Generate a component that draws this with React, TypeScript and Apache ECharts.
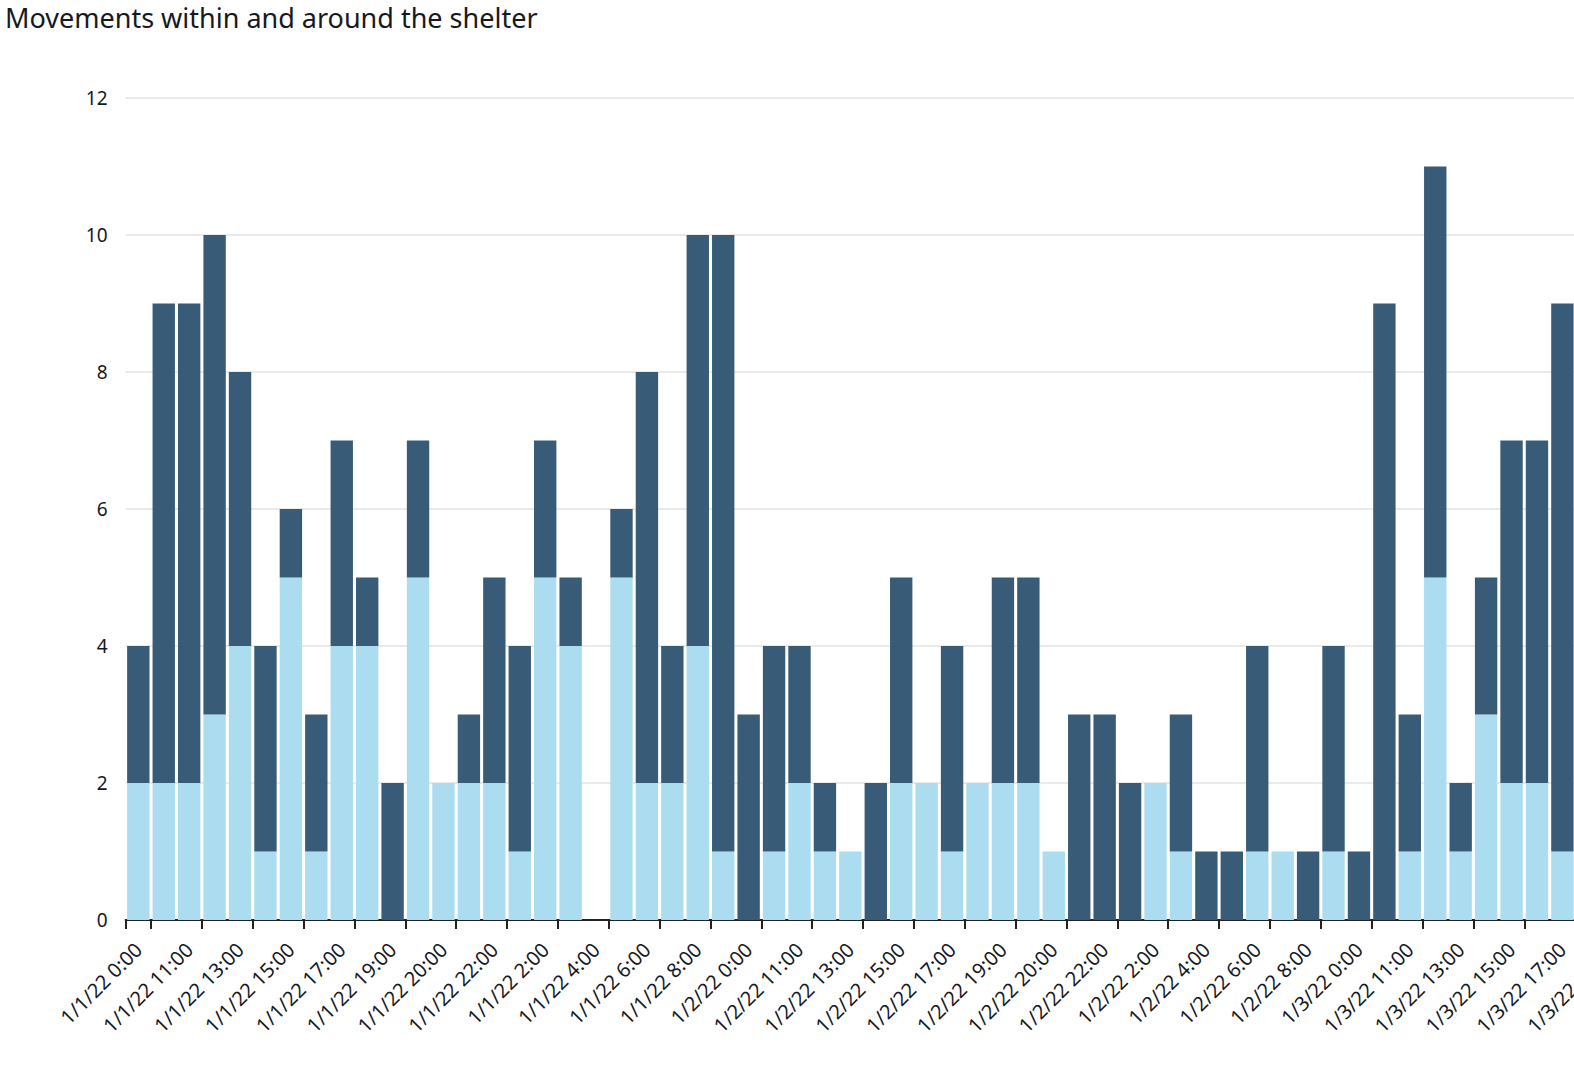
import React, { useEffect, useRef } from "react";
import * as echarts from "echarts";

const categories: string[] = [
  "1/1/22 0:00", "1/1/22 10:00", "1/1/22 11:00", "1/1/22 12:00", "1/1/22 13:00", "1/1/22 14:00",
  "1/1/22 15:00", "1/1/22 16:00", "1/1/22 17:00", "1/1/22 18:00", "1/1/22 19:00", "1/1/22 1:00",
  "1/1/22 20:00", "1/1/22 21:00", "1/1/22 22:00", "1/1/22 23:00", "1/1/22 2:00", "1/1/22 3:00",
  "1/1/22 4:00", "1/1/22 5:00", "1/1/22 6:00", "1/1/22 7:00", "1/1/22 8:00", "1/1/22 9:00",
  "1/2/22 0:00", "1/2/22 10:00", "1/2/22 11:00", "1/2/22 12:00", "1/2/22 13:00", "1/2/22 14:00",
  "1/2/22 15:00", "1/2/22 16:00", "1/2/22 17:00", "1/2/22 18:00", "1/2/22 19:00", "1/2/22 1:00",
  "1/2/22 20:00", "1/2/22 21:00", "1/2/22 22:00", "1/2/22 23:00", "1/2/22 2:00", "1/2/22 3:00",
  "1/2/22 4:00", "1/2/22 5:00", "1/2/22 6:00", "1/2/22 7:00", "1/2/22 8:00", "1/2/22 9:00",
  "1/3/22 0:00", "1/3/22 10:00", "1/3/22 11:00", "1/3/22 12:00", "1/3/22 13:00", "1/3/22 14:00",
  "1/3/22 15:00", "1/3/22 16:00", "1/3/22 17:00", "1/3/22 18:00", "1/3/22 19:00",
];

// light (bottom) segment
const withinValues: (number | null)[] = [
  2, 2, 2, 3, 4, 1, 5, 1, 4, 4, 0, 5, 2, 2, 2, 1, 5, 4, 0, 5, 2, 2, 4, 1,
  0, 1, 2, 1, 1, 0, 2, 2, 1, 2, 2, 2, 1, 0, 0, 0, 2, 1, 0, 0, 1, 1, 0, 1,
  0, 0, 1, 5, 1, 3, 2, 2, 1, null, null,
];

// dark (top) segment
const aroundValues: (number | null)[] = [
  2, 7, 7, 7, 4, 3, 1, 2, 3, 1, 2, 2, 0, 1, 3, 3, 2, 1, 0, 1, 6, 2, 6, 9,
  3, 3, 2, 1, 0, 2, 3, 0, 3, 0, 3, 3, 0, 3, 3, 2, 0, 2, 1, 1, 3, 0, 1, 3,
  1, 9, 2, 6, 1, 2, 5, 5, 8, null, null,
];

const yTicks = { min: 0, max: 12, interval: 2 };

const FONT = "'Noto Sans', 'DejaVu Sans', sans-serif";
const TEXT = "#16191f";

export default function App() {
  const ref = useRef<HTMLDivElement>(null);

  useEffect(() => {
    if (!ref.current) return;
    const chart = echarts.init(ref.current, undefined, { renderer: "svg" });
    const band = 25.43;
    chart.setOption({
      animation: false,
      textStyle: { fontFamily: FONT },
      title: {
        text: "Movements within and around the shelter",
        left: 5,
        top: 4,
        padding: 0,
        textStyle: { fontSize: 27, fontWeight: "normal", color: TEXT, fontFamily: FONT },
      },
      grid: {
        left: 125.6,
        top: 98,
        width: band * categories.length,
        height: 822,
        containLabel: false,
        outerBoundsMode: "none",
      },
      xAxis: {
        type: "category",
        data: categories,
        offset: 2,
        axisLine: { lineStyle: { color: "#222", width: 2 } },
        axisTick: {
          show: true,
          length: 9,
          lineStyle: { color: "#222", width: 2 },
          interval: (i: number) => i === 0 || i % 2 === 1,
        },
        axisLabel: {
          interval: 1,
          rotate: 45,
          fontSize: 20,
          color: TEXT,
          margin: 24,
          fontFamily: FONT,
        },
      },
      yAxis: {
        type: "value",
        min: yTicks.min,
        max: yTicks.max,
        interval: yTicks.interval,
        axisLine: { show: false },
        axisTick: { show: false },
        axisLabel: { fontSize: 19, color: TEXT, margin: 18, fontFamily: FONT },
        splitLine: { lineStyle: { color: "#e3e3e3", width: 1.5 } },
      },
      series: [
        {
          name: "Within",
          type: "bar",
          stack: "total",
          data: withinValues,
          barCategoryGap: "12%",
          itemStyle: { color: "#acdcef" },
        },
        {
          name: "Around",
          type: "bar",
          stack: "total",
          data: aroundValues,
          barCategoryGap: "12%",
          itemStyle: { color: "#385c77" },
        },
      ],
    });
    return () => chart.dispose();
  }, []);

  return (
    <div
      ref={ref}
      style={{ position: "fixed", left: 0, top: 0, width: 1574, height: 1076, background: "#fff" }}
    />
  );
}
